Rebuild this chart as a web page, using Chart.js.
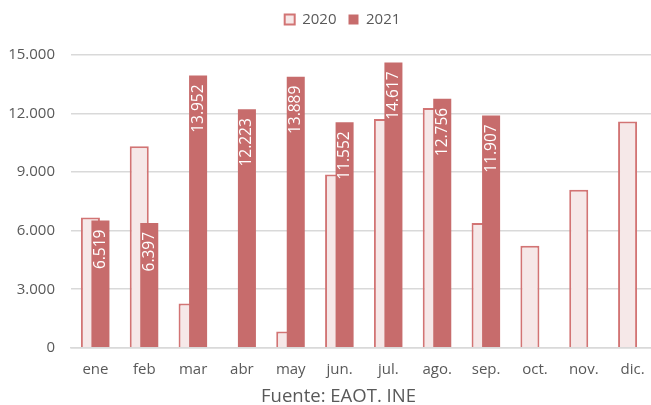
<!DOCTYPE html>
<html lang="es">
<head>
    <meta charset="UTF-8">
    <title>Viajeros 2020 - 2021</title>
    <script src="https://cdn.jsdelivr.net/npm/chart.js"></script>
    <style>
        html, body { margin: 0; padding: 0; background: #fff; overflow: hidden; }
        .chart-container { position: relative; width: 658px; height: 405px; }
    </style>
</head>
<body>

    <div class="chart-container">
        <canvas id="viajerosChart"></canvas>
    </div>

    <script>
        // Months and values
        const months = ['ene', 'feb', 'mar', 'abr', 'may', 'jun.', 'jul.', 'ago.', 'sep.', 'oct.', 'nov.', 'dic.'];
        const values2020 = [6670, 10330, 2270, 0, 830, 8880, 11720, 12290, 6390, 5230, 8100, 11590];
        const values2021 = [6519, 6397, 13952, 12223, 13889, 11552, 14617, 12756, 11907, null, null, null];
        const yTicks = [0, 3000, 6000, 9000, 12000, 15000];

        const textGray = '#595959';
        const fontFamily = '"Open Sans", Lato, sans-serif';

        // 6519 -> "6.519"
        function fmt(v) {
            return String(v).replace(/\B(?=(\d{3})+(?!\d))/g, '.');
        }

        // 2021 bars overlap the 2020 ones, so draw 2020 first and put the labels on top
        const barsAndLabels = {
            id: 'barsAndLabels',
            beforeInit(chart) {
                // extra room between legend and plot
                if (chart.legend) {
                    const fit = chart.legend.fit;
                    chart.legend.fit = function () {
                        fit.call(this);
                        this.height += 18;
                    };
                }
            },
            afterLayout(chart) {
                // legend and source sit a bit right of the canvas centre
                if (chart.legend) { chart.legend.left += 14; chart.legend.right += 14; }
                if (chart.titleBlock) { chart.titleBlock.left += 10; chart.titleBlock.right += 10; }
            },
            beforeDatasetsDraw(chart) {
                const ctx = chart.ctx;
                chart.getDatasetMeta(0).controller.draw();
                chart.getDatasetMeta(1).controller.draw();

                const meta = chart.getDatasetMeta(1);
                ctx.save();
                ctx.fillStyle = '#ffffff';
                ctx.font = '15.5px ' + fontFamily;
                ctx.textAlign = 'right';
                ctx.textBaseline = 'middle';
                meta.data.forEach((bar, i) => {
                    const v = values2021[i];
                    if (v === null) return;
                    ctx.save();
                    ctx.translate(bar.x, bar.y + 9);
                    ctx.rotate(-Math.PI / 2);
                    ctx.fillText(fmt(v), 0, 0);
                    ctx.restore();
                });
                ctx.restore();
                return false;
            }
        };

        const ctx = document.getElementById('viajerosChart').getContext('2d');
        new Chart(ctx, {
            type: 'bar',
            data: {
                labels: months,
                datasets: [
                    {
                        label: '2020',
                        data: values2020,
                        backgroundColor: '#f6e8e8',
                        borderColor: '#d27474',
                        borderWidth: 2,
                        categoryPercentage: 0.41,
                        barPercentage: 1.9
                    },
                    {
                        label: '2021',
                        data: values2021,
                        backgroundColor: '#c76c6c',
                        borderColor: '#c76c6c',
                        borderWidth: 0,
                        categoryPercentage: 0.41,
                        barPercentage: 1.8
                    }
                ]
            },
            options: {
                responsive: true,
                maintainAspectRatio: false,
                animation: false,
                layout: { padding: { top: 0, right: 1, left: 0, bottom: 0 } },
                plugins: {
                    legend: {
                        position: 'top',
                        labels: {
                            boxWidth: 10,
                            boxHeight: 10,
                            padding: 12,
                            color: textGray,
                            font: { family: fontFamily, size: 15 }
                        }
                    },
                    title: {
                        display: true,
                        position: 'bottom',
                        text: 'Fuente: EAOT. INE',
                        color: textGray,
                        font: { family: fontFamily, size: 18.5, weight: 'normal' },
                        padding: { top: 0, bottom: -3 }
                    },
                    tooltip: { enabled: false }
                },
                scales: {
                    x: {
                        afterFit(scale) { scale.height = 38; },
                        grid: { display: false },
                        border: { color: '#d9d9d9', width: 1.5 },
                        ticks: {
                            color: textGray,
                            padding: 5,
                            font: { family: fontFamily, size: 15 }
                        }
                    },
                    y: {
                        min: 0,
                        max: 15000,
                        afterFit(scale) { scale.width = 71; },
                        afterBuildTicks(scale) {
                            scale.ticks = yTicks.map(v => ({ value: v }));
                        },
                        grid: { color: '#d9d9d9', lineWidth: 1.5, drawTicks: false },
                        border: { display: false },
                        ticks: {
                            color: textGray,
                            padding: 16,
                            font: { family: fontFamily, size: 15 },
                            callback: v => fmt(v)
                        }
                    }
                }
            },
            plugins: [barsAndLabels]
        });
    </script>

</body>
</html>
